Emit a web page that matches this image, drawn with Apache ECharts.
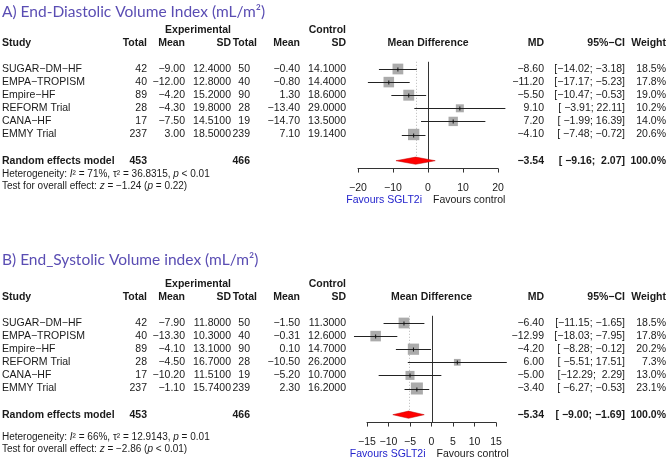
<!DOCTYPE html>
<html><head><meta charset="utf-8">
<script src="https://cdn.jsdelivr.net/npm/echarts@6/dist/echarts.min.js"></script>
<style>html,body{margin:0;padding:0;background:#fff}#c{width:669px;height:458px}</style>
</head><body><div id="c"></div>
<script>
// ---------------- DATA ----------------
const studies = ["SUGAR\u2212DM\u2212HF","EMPA\u2212TROPISM","Empire\u2212HF","REFORM Trial","CANA\u2212HF","EMMY Trial"];
const pooledLabel = "Random effects model";

// Panel A: End-Diastolic Volume Index
const A_title = "A) End-Diastolic Volume Index (mL/m\u00B2)";
const A_expTotal = [42, 40, 89, 28, 17, 237];
const A_expMean  = [-9.00, -12.00, -4.20, -4.30, -7.50, 3.00];
const A_expSD    = [12.4, 12.8, 15.2, 19.8, 14.51, 18.5];
const A_ctlTotal = [50, 40, 90, 28, 19, 239];
const A_ctlMean  = [-0.40, -0.80, 1.30, -13.40, -14.70, 7.10];
const A_ctlSD    = [14.1, 14.4, 18.6, 29.0, 13.5, 19.14];
const A_md       = [-8.60, -11.20, -5.50, 9.10, 7.20, -4.10];
const A_lo       = [-14.02, -17.17, -10.47, -3.91, -1.99, -7.48];
const A_hi       = [-3.18, -5.23, -0.53, 22.11, 16.39, -0.72];
const A_weight   = [18.5, 17.8, 19.0, 10.2, 14.0, 20.6];
const A_pooled   = [-3.54, -9.16, 2.07];   // MD, lower, upper
const A_totals   = [453, 466];
const A_ticks    = [-20, -10, 0, 10, 20];
const A_het      = ["71%", "36.8315", "< 0.01"];  // I2, tau2, p
const A_test     = ["\u22121.24", "= 0.22"];      // z, p

// Panel B: End-Systolic Volume index
const B_title = "B) End_Systolic Volume index (mL/m\u00B2)";
const B_expTotal = [42, 40, 89, 28, 17, 237];
const B_expMean  = [-7.90, -13.30, -4.10, -4.50, -10.20, -1.10];
const B_expSD    = [11.8, 10.3, 13.1, 16.7, 11.51, 15.74];
const B_ctlTotal = [50, 40, 90, 28, 19, 239];
const B_ctlMean  = [-1.50, -0.31, 0.10, -10.50, -5.20, 2.30];
const B_ctlSD    = [11.3, 12.6, 14.7, 26.2, 10.7, 16.2];
const B_md       = [-6.40, -12.99, -4.20, 6.00, -5.00, -3.40];
const B_lo       = [-11.15, -18.03, -8.28, -5.51, -12.29, -6.27];
const B_hi       = [-1.65, -7.95, -0.12, 17.51, 2.29, -0.53];
const B_weight   = [18.5, 17.8, 20.2, 7.3, 13.0, 23.1];
const B_pooled   = [-5.34, -9.00, -1.69];
const B_totals   = [453, 466];
const B_ticks    = [-15, -10, -5, 0, 5, 10, 15];
const B_het      = ["66%", "12.9143", "= 0.01"];
const B_test     = ["\u22122.86", "< 0.01"];

const favLeft = "Favours SGLT2i";
const favRight = "Favours control";

// ---------------- LAYOUT / STYLE ----------------
const PANELS = [
  {title:A_title, expTotal:A_expTotal, expMean:A_expMean, expSD:A_expSD, ctlTotal:A_ctlTotal, ctlMean:A_ctlMean, ctlSD:A_ctlSD,
   md:A_md, lo:A_lo, hi:A_hi, weight:A_weight, pooled:A_pooled, totals:A_totals, ticks:A_ticks, het:A_het, test:A_test},
  {title:B_title, expTotal:B_expTotal, expMean:B_expMean, expSD:B_expSD, ctlTotal:B_ctlTotal, ctlMean:B_ctlMean, ctlSD:B_ctlSD,
   md:B_md, lo:B_lo, hi:B_hi, weight:B_weight, pooled:B_pooled, totals:B_totals, ticks:B_ticks, het:B_het, test:B_test}
];
const LAYOUT = [
  {titleY:12, row0:69, left:358, width:140, hetY:174, testY:186},
  {titleY:260, row0:323, left:367, width:129, hetY:437, testY:449}
];
const ROW_H = 13.1, Y_MIN = -3, Y_MAX = 7.6, POOLED_ROW = 7, LINE_START = -0.55;
const COL = {study:2, expTotal:147, expMean:185, expSD:231, ctlTotal:250, ctlTotalHead:257, ctlMean:300, ctlSD:346, md:544, ci:625, weight:666};
const FF = '"Liberation Sans", Arial, Helvetica, sans-serif';
const F_REG = '10.5px ' + FF, F_BOLD = 'bold 10.5px ' + FF;
const F_SMALL = '10px ' + FF, F_SMALL_I = 'italic 10px ' + FF;
const TEXT_C = '#1a1a1a';

function fmt(v, d){ return v.toFixed(d).replace('-', '\u2212'); }
function padL(s, n){ while (s.length < n) s = ' ' + s; return s; }
function txt(x, y, s, font, align, fill){
  return {type:'text', x:x, y:y, silent:true,
    style:{text:s, font:font, fill:fill||TEXT_C, align:align||'left', textAlign:align||'left', verticalAlign:'middle', textVerticalAlign:'middle'}};
}

const grids = [], xAxes = [], yAxes = [], series = [], graphics = [];

PANELS.forEach(function(P, g){
  const L = LAYOUT[g];
  const top = L.row0 + Y_MIN * ROW_H;
  const height = (Y_MAX - Y_MIN) * ROW_H;
  const xmin = P.ticks[0], xmax = P.ticks[P.ticks.length-1];
  grids.push({left:L.left, width:L.width, top:top, height:height, outerBoundsMode:'none'});
  xAxes.push({gridIndex:g, type:'value', position:'bottom', min:xmin, max:xmax, interval:P.ticks[1]-P.ticks[0],
    axisLine:{show:true, onZero:false, lineStyle:{color:'#333', width:1}},
    axisTick:{show:true, inside:false, length:4, lineStyle:{color:'#333'}},
    axisLabel:{show:true, margin:14, fontSize:10.5, fontFamily:FF, color:TEXT_C,
      formatter:function(v){ return String(v).replace('-', '\u2212'); }},
    splitLine:{show:false}});
  yAxes.push({gridIndex:g, type:'value', min:Y_MIN, max:Y_MAX, inverse:true, show:false});

  // CI strings
  const loS = P.lo.map(v=>fmt(v,2)).concat([fmt(P.pooled[1],2)]);
  const hiS = P.hi.map(v=>fmt(v,2)).concat([fmt(P.pooled[2],2)]);
  const L1 = Math.max.apply(null, loS.map(s=>s.length));
  const L2 = Math.max.apply(null, hiS.map(s=>s.length));
  const ciS = loS.map((s,i)=>'[' + padL(s,L1) + '; ' + padL(hiS[i],L2) + ']');

  // reference lines (zero line and dotted pooled line)
  series.push({type:'custom', xAxisIndex:g, yAxisIndex:g, silent:true, z:1,
    data:[[0, LINE_START, Y_MAX, 0], [P.pooled[0], LINE_START, POOLED_ROW, 1]],
    renderItem:function(params, api){
      const a = api.coord([api.value(0), api.value(1)]);
      const b = api.coord([api.value(0), api.value(2)]);
      const dotted = api.value(3) === 1;
      return {type:'line', shape:{x1:Math.round(a[0])+0.5, y1:a[1], x2:Math.round(a[0])+0.5, y2:b[1]},
        style:{stroke: dotted ? '#b8b8b8' : '#333', lineWidth:1, lineDash: dotted ? [1,2] : null}};
    }});

  // study squares and CIs
  series.push({type:'custom', xAxisIndex:g, yAxisIndex:g, silent:true, z:3,
    data: P.md.map((m,i)=>[m, i, P.lo[i], P.hi[i], P.weight[i]]),
    renderItem:function(params, api){
      const p = api.coord([api.value(0), api.value(1)]);
      const a = api.coord([api.value(2), api.value(1)]);
      const b = api.coord([api.value(3), api.value(1)]);
      const s = 2.5 * Math.sqrt(api.value(4));
      const y = Math.round(p[1]) + 0.5;
      return {type:'group', children:[
        {type:'rect', shape:{x:p[0]-s/2, y:p[1]-s/2, width:s, height:s}, style:{fill:'#ababab'}},
        {type:'line', shape:{x1:a[0], y1:y, x2:b[0], y2:y}, style:{stroke:'#222', lineWidth:1}},
        {type:'line', shape:{x1:p[0], y1:y-2, x2:p[0], y2:y+2}, style:{stroke:'#111', lineWidth:1}}
      ]};
    }});

  // pooled diamond
  series.push({type:'custom', xAxisIndex:g, yAxisIndex:g, silent:true, z:4,
    data:[[P.pooled[0], POOLED_ROW, P.pooled[1], P.pooled[2]]],
    renderItem:function(params, api){
      const p = api.coord([api.value(0), api.value(1)]);
      const a = api.coord([api.value(2), api.value(1)]);
      const b = api.coord([api.value(3), api.value(1)]);
      const h = 3.6;
      return {type:'polygon', shape:{points:[[a[0],p[1]],[p[0],p[1]-h],[b[0],p[1]],[p[0],p[1]+h]]},
        style:{fill:'#ff0000', stroke:'#c00000', lineWidth:0.5}};
    }});

  // table text rows
  series.push({type:'custom', xAxisIndex:g, yAxisIndex:g, silent:true, z:5,
    data: studies.map((s,i)=>[0, i]).concat([[0, POOLED_ROW]]),
    renderItem:function(params, api){
      const i = params.dataIndex;
      const y = api.coord([0, api.value(1)])[1];
      if (i < studies.length) {
        return {type:'group', children:[
          txt(COL.study, y, studies[i], F_REG, 'left'),
          txt(COL.expTotal, y, String(P.expTotal[i]), F_REG, 'right'),
          txt(COL.expMean, y, fmt(P.expMean[i],2), F_REG, 'right'),
          txt(COL.expSD, y, fmt(P.expSD[i],4), F_REG, 'right'),
          txt(COL.ctlTotal, y, String(P.ctlTotal[i]), F_REG, 'right'),
          txt(COL.ctlMean, y, fmt(P.ctlMean[i],2), F_REG, 'right'),
          txt(COL.ctlSD, y, fmt(P.ctlSD[i],4), F_REG, 'right'),
          txt(COL.md, y, fmt(P.md[i],2), F_REG, 'right'),
          txt(COL.ci, y, ciS[i], F_REG, 'right'),
          txt(COL.weight, y, P.weight[i].toFixed(1) + '%', F_REG, 'right')
        ]};
      }
      return {type:'group', children:[
        txt(COL.study, y, pooledLabel, F_BOLD, 'left'),
        txt(COL.expTotal, y, String(P.totals[0]), F_BOLD, 'right'),
        txt(COL.ctlTotal, y, String(P.totals[1]), F_BOLD, 'right'),
        txt(COL.md, y, fmt(P.pooled[0],2), F_BOLD, 'right'),
        txt(COL.ci, y, ciS[ciS.length-1], F_BOLD, 'right'),
        txt(COL.weight, y, '100.0%', F_BOLD, 'right')
      ]};
    }});

  // static text: title, headers, heterogeneity, favours labels
  const x0 = L.left + L.width * (0 - xmin) / (xmax - xmin);
  const yExp = L.row0 - 3 * ROW_H, yHead = L.row0 - 2 * ROW_H;
  const axisY = L.row0 + Y_MAX * ROW_H;
  graphics.push({type:'text', x:2, y:L.titleY, silent:true,
    style:{text:P.title, font:'15.5px Lato, "Open Sans", sans-serif', fill:'#5a4db3', align:'left', textAlign:'left', verticalAlign:'middle', textVerticalAlign:'middle'}});
  graphics.push(txt(COL.expSD, yExp, 'Experimental', F_BOLD, 'right'));
  graphics.push(txt(COL.ctlSD, yExp, 'Control', F_BOLD, 'right'));
  [['Study',COL.study,'left'],['Total',COL.expTotal,'right'],['Mean',COL.expMean,'right'],['SD',COL.expSD,'right'],
   ['Total',COL.ctlTotalHead,'right'],['Mean',COL.ctlMean,'right'],['SD',COL.ctlSD,'right'],
   ['Mean Difference',x0,'center'],['MD',COL.md,'right'],['95%\u2212CI',COL.ci,'right'],['Weight',COL.weight,'right']]
   .forEach(h=>graphics.push(txt(h[1], yHead, h[0], F_BOLD, h[2])));
  const rich = {n:{font:F_SMALL, fill:TEXT_C}, i:{font:F_SMALL_I, fill:TEXT_C}};
  graphics.push({type:'text', x:2, y:L.hetY, silent:true,
    style:{text:'{n|Heterogeneity: }{i|I}{n|\u00B2 = ' + P.het[0] + ', \u03C4\u00B2 = ' + P.het[1] + ', }{i|p}{n| ' + P.het[2] + '}',
      rich:rich, font:F_SMALL, fill:TEXT_C, align:'left', textAlign:'left', verticalAlign:'middle', textVerticalAlign:'middle'}});
  graphics.push({type:'text', x:2, y:L.testY, silent:true,
    style:{text:'{n|Test for overall effect: }{i|z}{n| = ' + P.test[0] + ' (}{i|p}{n| ' + P.test[1] + ')}',
      rich:rich, font:F_SMALL, fill:TEXT_C, align:'left', textAlign:'left', verticalAlign:'middle', textVerticalAlign:'middle'}});
  graphics.push(txt(x0 - 6, axisY + 32, favLeft, F_REG, 'right', '#2323cc'));
  graphics.push(txt(x0 + 5, axisY + 32, favRight, F_REG, 'left', TEXT_C));
});

const chart = echarts.init(document.getElementById('c'), null, {renderer:'canvas'});
chart.setOption({
  animation:false, backgroundColor:'#ffffff',
  grid:grids, xAxis:xAxes, yAxis:yAxes, series:series, graphic:graphics
});
</script></body></html>
